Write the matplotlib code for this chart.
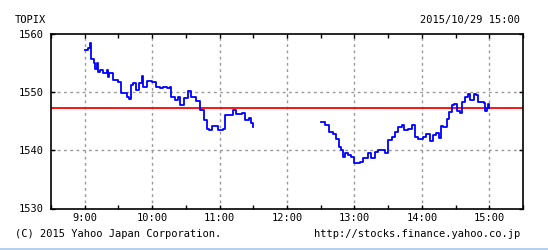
import numpy as np
import matplotlib.pyplot as plt
from matplotlib.lines import Line2D

# TOPIX 2015/10/29 intraday
am_time = ['9:00', '9:03', '9:05', '9:06', '9:08', '9:09', '9:11', '9:12', '9:14', '9:16',
           '9:20', '9:21', '9:22', '9:25', '9:30', '9:32', '9:35', '9:38', '9:39', '9:41',
           '9:43', '9:46', '9:48', '9:51', '9:52', '9:55', '9:56', '10:00', '10:03', '10:07',
           '10:10', '10:13', '10:16', '10:17', '10:20', '10:23', '10:25', '10:28', '10:32', '10:35',
           '10:39', '10:43', '10:46', '10:49', '10:51', '10:53', '10:57', '10:59', '11:03', '11:05',
           '11:09', '11:12', '11:15', '11:20', '11:23', '11:26', '11:28', '11:30']
am_price = [1557.2, 1557.6, 1558.4, 1555.6, 1554.9, 1553.9, 1554.9, 1553.4, 1553.7, 1553.3,
            1553.7, 1552.5, 1553.2, 1552.0, 1551.7, 1549.8, 1549.8, 1549.2, 1548.8, 1551.2,
            1551.6, 1550.3, 1551.5, 1552.7, 1550.9, 1551.8, 1551.9, 1551.7, 1550.8, 1550.6,
            1550.9, 1550.7, 1550.8, 1549.2, 1548.6, 1549.2, 1547.7, 1549.0, 1550.2, 1549.2,
            1548.4, 1546.9, 1545.2, 1543.7, 1543.4, 1544.1, 1544.1, 1543.4, 1543.6, 1546.0,
            1546.0, 1546.9, 1546.2, 1546.3, 1545.2, 1545.5, 1544.6, 1544.0]

pm_time = ['12:30', '12:34', '12:37', '12:41', '12:44', '12:46', '12:48', '12:50', '12:52', '12:54',
           '12:57', '13:00', '13:05', '13:08', '13:12', '13:15', '13:18', '13:21', '13:26', '13:27',
           '13:30', '13:33', '13:36', '13:39', '13:42', '13:44', '13:48', '13:51', '13:54', '13:57',
           '14:01', '14:04', '14:07', '14:10', '14:13', '14:15', '14:17', '14:19', '14:22', '14:24',
           '14:27', '14:29', '14:31', '14:34', '14:36', '14:38', '14:41', '14:43', '14:46', '14:48',
           '14:50', '14:55', '14:56', '14:58', '14:59', '15:00']
pm_price = [1544.8, 1544.3, 1543.2, 1542.8, 1542.0, 1540.6, 1540.0, 1538.9, 1539.5, 1539.2,
            1538.9, 1537.8, 1538.0, 1538.6, 1539.6, 1538.6, 1539.7, 1540.0, 1540.0, 1539.5,
            1541.7, 1542.3, 1543.2, 1544.0, 1544.3, 1543.4, 1543.7, 1544.4, 1542.3, 1541.9,
            1542.2, 1542.7, 1541.6, 1542.6, 1542.9, 1542.1, 1544.1, 1544.0, 1545.3, 1546.6,
            1547.7, 1547.9, 1546.8, 1546.3, 1548.3, 1549.2, 1549.7, 1548.6, 1549.6, 1549.5,
            1548.3, 1548.1, 1546.8, 1547.2, 1548.0, 1547.2]

prev_close = 1547.24
hour_ticks = [9, 10, 11, 12, 13, 14, 15]
hour_labels = ['9:00', '10:00', '11:00', '12:00', '13:00', '14:00', '15:00']
y_ticks = [1530, 1540, 1550, 1560]


def to_hours(ts):
    out = []
    for t in ts:
        h, m = t.split(':')
        out.append(int(h) + int(m) / 60.0)
    return np.array(out)


plt.rcParams['font.family'] = ['DejaVu Sans Mono']
fig = plt.figure(figsize=(5.48, 2.5), dpi=100)
ax = fig.add_axes([51 / 548, 1 - 208.5 / 250, 472 / 548, 175 / 250])

grid_kw = dict(color='#999999', lw=1, dashes=(2, 2.5))
for h in hour_ticks:
    ax.axvline(h, **grid_kw, zorder=1)
for v in [1540, 1550]:
    ax.axhline(v, **grid_kw, zorder=1)

ax.axhline(prev_close, color='#ff0000', lw=1.3, zorder=2)
ax.plot(to_hours(am_time), am_price, color='#0000ff', lw=1.3, drawstyle='steps-post', zorder=3)
ax.plot(to_hours(pm_time), pm_price, color='#0000ff', lw=1.3, drawstyle='steps-post', zorder=3)

ax.set_xlim(8.5, 15.5)
ax.set_ylim(1530, 1560)
ax.set_xticks(hour_ticks)
ax.set_xticklabels(hour_labels)
ax.set_xticks(np.arange(8.5, 15.6, 0.5), minor=True)
ax.set_yticks(y_ticks)
ax.tick_params(axis='x', which='both', direction='in', top=True, length=3, width=1,
               labelsize=7.5, pad=3)
ax.tick_params(axis='y', direction='in', right=True, length=3, width=1, labelsize=7.5, pad=5)
for s in ax.spines.values():
    s.set_linewidth(1.2)
    s.set_color('black')

fig.text(15 / 548, 1 - 20 / 250, 'TOPIX', fontsize=7.5, va='center', ha='left')
fig.text(520 / 548, 1 - 20 / 250, '2015/10/29 15:00', fontsize=7.5, va='center', ha='right')
fig.text(15 / 548, 1 - 234 / 250, '(C) 2015 Yahoo Japan Corporation.', fontsize=7.5,
         va='center', ha='left')
fig.text(520 / 548, 1 - 234 / 250, 'http://stocks.finance.yahoo.co.jp', fontsize=7.5,
         va='center', ha='right')
fig.add_artist(Line2D([0, 1], [0.6 / 250, 0.6 / 250], transform=fig.transFigure,
                      color='#a8c8ec', lw=1.2))

fig.savefig('out.png', dpi=100)
